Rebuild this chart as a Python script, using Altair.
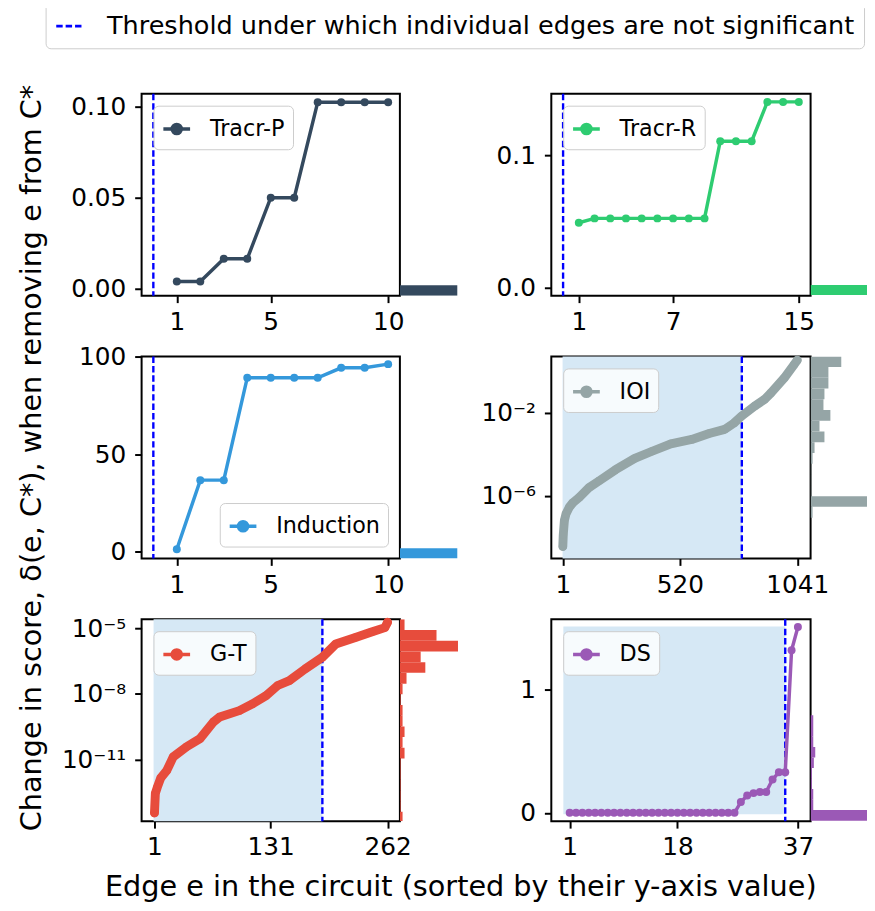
import altair as alt
import pandas as pd

FONT = "DejaVu Sans"
THR_LABEL = "Threshold under which individual edges are not significant"

# ---------------- data ----------------
names = ["Tracr-P", "Tracr-R", "Induction", "IOI", "G-T", "DS"]
colors = ["#34495e", "#2ecc71", "#3498db", "#95a5a6", "#e74c3c", "#9b59b6"]

tracr_p_x = [1, 2, 3, 4, 5, 6, 7, 8, 9, 10]
tracr_p_y = [0.0038, 0.0038, 0.0163, 0.0163, 0.0499, 0.0499, 0.1024, 0.1024, 0.1024, 0.1024]

tracr_r_x = [1, 2, 3, 4, 5, 6, 7, 8, 9, 10, 11, 12, 13, 14, 15]
tracr_r_y = [0.0491, 0.0524, 0.0524, 0.0524, 0.0524, 0.0524, 0.0524, 0.0524, 0.0524,
             0.1107, 0.1107, 0.1107, 0.1404, 0.1404, 0.1404]

induction_x = [1, 2, 3, 4, 5, 6, 7, 8, 9, 10]
induction_y = [1.0, 36.6, 36.6, 89.3, 89.3, 89.3, 89.3, 94.4, 94.4, 96.3]

ioi_x = [1, 3, 8, 15, 30, 45, 74, 118, 162, 235, 320, 397, 480, 573, 650, 719, 760,
         793, 851, 895, 924, 983, 1026, 1041]
ioi_y = [3.5e-9, 1.3e-8, 6.3e-8, 1.3e-7, 2.8e-7, 4.5e-7, 8.3e-7, 2.5e-6, 5.2e-6, 1.8e-5,
         6.3e-5, 1.4e-4, 3.2e-4, 5.2e-4, 1.0e-3, 1.6e-3, 3.2e-3, 6.9e-3, 2.1e-2, 4.4e-2,
         9.1e-2, 0.48, 2.1, 3.5]

gt_x = [1, 2, 4, 8, 15, 22, 37, 52, 67, 74, 96, 111, 126, 139, 152, 170, 189, 204, 226,
        244, 259, 262]
gt_y = [3.5e-14, 2.8e-13, 5.0e-13, 1.4e-12, 3.2e-12, 1.3e-11, 3.8e-11, 8.9e-11, 5.1e-10,
        8.7e-10, 1.7e-9, 3.5e-9, 8.3e-9, 2.4e-8, 4.0e-8, 1.4e-7, 4.7e-7, 1.9e-6, 3.8e-6,
        6.8e-6, 1.07e-5, 1.9e-5]

ds_x = list(range(1, 38))
ds_y = [0.0] * 27 + [0.088, 0.14, 0.16, 0.17, 0.17, 0.27, 0.33, 0.33, 1.32, 1.51]

thresholds = [0, 0, 0, 795, 189, 35]

# marginal histograms: bin edges (low, high) and bar lengths
tracr_p_hist_lo = [-0.004]
tracr_p_hist_hi = [0.0017]
tracr_p_hist_len = [58]

tracr_r_hist_lo = [-0.0055]
tracr_r_hist_hi = [0.002]
tracr_r_hist_len = [60]

induction_hist_lo = [-3.7]
induction_hist_hi = [1.5]
induction_hist_len = [58]

ioi_hist_edges = [5.25, 1.65, 0.50, 0.15, 0.046, 0.0138, 4.2e-3, 1.26e-3, 3.8e-4, 1.15e-4,
                  3.5e-5, 1.05e-5, 3.2e-6, 9.5e-7, 2.9e-7, 8.6e-8]
ioi_hist_len = [31, 18, 18, 14, 13, 20, 9, 14, 4, 2, 0.7, 0.7, 0.7, 62, 2]

gt_hist_edges = [2.57e-5, 8.3e-6, 2.7e-6, 8.7e-7, 2.8e-7, 9.1e-8, 2.9e-8, 9.5e-9, 3.1e-9,
                 1.0e-9, 3.2e-10, 1.05e-10, 3.4e-11, 1.1e-11, 3.6e-12, 1.2e-12, 3.8e-13,
                 1.2e-13, 4.0e-14, 1.48e-14]
gt_hist_len = [4.7, 37, 58.7, 21, 25.7, 6.7, 2.7, 0.7, 2.7, 2.7, 4.7, 2.7, 4.7, 0.7, 0.7,
               0.7, 0.7, 0.7, 2.7]

ds_hist_edges = [-0.064, 0.022, 0.107, 0.193, 0.278, 0.364, 0.450, 0.535, 0.621, 0.706, 0.792]
ds_hist_len = [60, 2.7, 2.7, 1.3, 1.3, 3.3, 4.7, 2.7, 2.7, 2.7]

# ---------------- styling / layout ----------------
LEFT_W, RIGHT_W = 261, 262
LEFT_HIST_W, RIGHT_HIST_W = 153, 57
ROW_H = 204
SYMBOL_PATH = ("M-1,0H1M0.34,0A0.34,0.34,0,1,1,-0.34,0"
               "A0.34,0.34,0,1,1,0.34,0Z")

panels = [
    dict(name="Tracr-P", x=tracr_p_x, y=tracr_p_y, xdom=[-0.5, 10.5], ydom=[-0.004, 0.107],
         log=False, xticks=[1, 5, 10], yticks=[0, 0.05, 0.1], yfmt=".2f", shade=None,
         orient="top-left", thick=False,
         hist=(tracr_p_hist_lo, tracr_p_hist_hi, tracr_p_hist_len), hw=LEFT_HIST_W, w=LEFT_W),
    dict(name="Tracr-R", x=tracr_r_x, y=tracr_r_y, xdom=[-0.75, 15.75], ydom=[-0.006, 0.1465],
         log=False, xticks=[1, 7, 15], yticks=[0, 0.1], yfmt=".1f", shade=None,
         orient="top-left", thick=False,
         hist=(tracr_r_hist_lo, tracr_r_hist_hi, tracr_r_hist_len), hw=RIGHT_HIST_W, w=RIGHT_W),
    dict(name="Induction", x=induction_x, y=induction_y, xdom=[-0.5, 10.5], ydom=[-3.7, 100.2],
         log=False, xticks=[1, 5, 10], yticks=[0, 50, 100], yfmt="d", shade=None,
         orient="bottom-right", thick=False,
         hist=(induction_hist_lo, induction_hist_hi, induction_hist_len), hw=LEFT_HIST_W, w=LEFT_W),
    dict(name="IOI", x=ioi_x, y=ioi_y, xdom=[-50, 1100], ydom=[9.3e-10, 5.25],
         log=True, xticks=[1, 520, 1041], yticks=[1e-6, 1e-2],
         lexpr="datum.value < 1e-4 ? '10⁻⁶' : '10⁻²'", shade=[9.3e-10, 5.25],
         orient="top-left", thick=True,
         hist=(ioi_hist_edges[1:], ioi_hist_edges[:-1], ioi_hist_len), hw=RIGHT_HIST_W, w=RIGHT_W),
    dict(name="G-T", x=gt_x, y=gt_y, xdom=[-13.4, 275.8], ydom=[1.48e-14, 2.57e-5],
         log=True, xticks=[1, 131, 262], yticks=[1e-11, 1e-8, 1e-5],
         lexpr="datum.value < 1e-9 ? '10⁻¹¹' : datum.value < 1e-6 ? '10⁻⁸' : '10⁻⁵'",
         shade=[1.48e-14, 2.57e-5], orient="top-left", thick=True,
         hist=(gt_hist_edges[1:], gt_hist_edges[:-1], gt_hist_len), hw=LEFT_HIST_W, w=LEFT_W),
    dict(name="DS", x=ds_x, y=ds_y, xdom=[-1.9, 39.0], ydom=[-0.068, 1.572],
         log=False, xticks=[1, 18, 37], yticks=[0, 1], yfmt="d", shade=[-0.012, 1.513],
         orient="top-left", thick=False,
         hist=(ds_hist_edges[:-1], ds_hist_edges[1:], ds_hist_len), hw=RIGHT_HIST_W, w=RIGHT_W),
]

thr_legend = alt.Legend(
    title=None, orient="none", legendX=-97, legendY=-92, labelFontSize=25.8, labelFont=FONT,
    labelColor="black", labelLimit=2000, symbolType="stroke", symbolSize=650,
    symbolStrokeColor="#0000ff", symbolStrokeWidth=2.8, symbolDash=[9, 5],
    labelOffset=24, padding=9, strokeColor="#cccccc", fillColor="white", cornerRadius=5,
)


def make_panel(i, p):
    color = colors[i]
    xscale = alt.Scale(domain=p["xdom"], nice=False, zero=False)
    yscale = alt.Scale(type="log" if p["log"] else "linear", domain=p["ydom"], nice=False,
                       zero=False)
    xaxis_kw = dict(values=p["xticks"], title=None, labelFlush=False, labelPadding=7,
                    format="d")
    yaxis_kw = dict(values=p["yticks"], title=None, labelPadding=9)
    if p["log"]:
        yaxis_kw["labelExpr"] = p["lexpr"]
    else:
        yaxis_kw["format"] = p["yfmt"]
    if p["name"] == "Induction":
        yaxis_kw.update(title="Change in score, δ(e, C*), when removing e from C*",
                        titleFontSize=29, titleFont=FONT, titleFontWeight="normal",
                        titleColor="black", titleX=-102, titleY=ROW_H / 2,
                        titleBaseline="alphabetic", titleAngle=270, titleAlign="center")
    if p["name"] == "G-T":
        xaxis_kw.update(title="Edge e in the circuit (sorted by their y-axis value)",
                        titleFontSize=29, titleFont=FONT, titleFontWeight="normal",
                        titleColor="black", titleX=322, titleY=75,
                        titleBaseline="alphabetic", titleAlign="center")
    xaxis = alt.Axis(**xaxis_kw)
    yaxis = alt.Axis(**yaxis_kw)

    df = pd.DataFrame({"edge": p["x"], "score": p["y"], "series": p["name"]})
    X = alt.X("edge:Q", scale=xscale, axis=xaxis)
    Y = alt.Y("score:Q", scale=yscale, axis=yaxis)

    layers = []
    if p["shade"] is not None:
        sh = pd.DataFrame({"edge": [0], "edge2": [thresholds[i]],
                           "score": [p["shade"][0]], "score2": [p["shade"][1]]})
        layers.append(alt.Chart(sh).mark_rect(color="#d6e8f5").encode(
            x=X, x2="edge2:Q", y=Y, y2="score2:Q"))
    rule_df = pd.DataFrame({"edge": [thresholds[i]], "label": [THR_LABEL]})
    layers.append(alt.Chart(rule_df).mark_rule(color="#0000ff", strokeWidth=2.4).encode(
        x=X,
        strokeDash=alt.StrokeDash("label:N", scale=alt.Scale(domain=[THR_LABEL],
                                                             range=[[6.5, 3]]),
                                  legend=thr_legend)))
    if p["thick"]:
        layers.append(alt.Chart(df).mark_line(color=color, strokeWidth=9, strokeCap="round",
                                              strokeJoin="round").encode(x=X, y=Y))
    else:
        layers.append(alt.Chart(df).mark_line(color=color, strokeWidth=3.5).encode(x=X, y=Y))
    leg = alt.Legend(title=None, orient=p["orient"], offset=12, labelFontSize=22.5,
                     labelFont=FONT, labelColor="black", symbolType=SYMBOL_PATH,
                     symbolSize=729, symbolStrokeWidth=3.5, symbolStrokeColor=color,
                     symbolFillColor=color, symbolOpacity=1, labelOffset=18, padding=8,
                     strokeColor="#cccccc", fillColor="rgba(255,255,255,0.8)",
                     cornerRadius=5)
    layers.append(alt.Chart(df).mark_point(filled=True, size=65, opacity=1).encode(
        x=X, y=Y,
        color=alt.Color("series:N", scale=alt.Scale(domain=[p["name"]], range=[color]),
                        legend=leg)))
    main = alt.layer(*layers).properties(
        width=p["w"], height=ROW_H,
        view=alt.ViewBackground(stroke="black", strokeWidth=2))

    lo, hi, ln = p["hist"]
    hdf = pd.DataFrame({"lo": lo, "hi": hi, "count": ln})
    hist = alt.Chart(hdf).mark_rect(color=color, clip=True).encode(
        y=alt.Y("lo:Q", scale=yscale, axis=None),
        y2="hi:Q",
        x=alt.X("count:Q", scale=alt.Scale(domain=[0, p["hw"]], nice=False, zero=True),
                axis=None),
        x2=alt.datum(0),
    ).properties(width=p["hw"], height=ROW_H, view=alt.ViewBackground(stroke=None))
    return main, hist


cells = []
for i, p in enumerate(panels):
    m, h = make_panel(i, p)
    cells += [m, h]

chart = alt.concat(*cells, columns=4, spacing={"row": 61.5, "column": 0}, bounds="flush"
                   ).resolve_scale(color="independent", x="independent", y="independent"
                   ).resolve_legend(color="independent"
                   ).properties(
    padding={"left": 8, "top": -11, "right": 0, "bottom": 0}
).configure(
    font=FONT
).configure_axis(
    labelFont=FONT, labelFontSize=25, labelColor="black", tickColor="black", tickWidth=2,
    tickSize=7, domain=False, grid=False,
)

chart.save("out.html", embed_options={"renderer": "svg", "actions": False})
